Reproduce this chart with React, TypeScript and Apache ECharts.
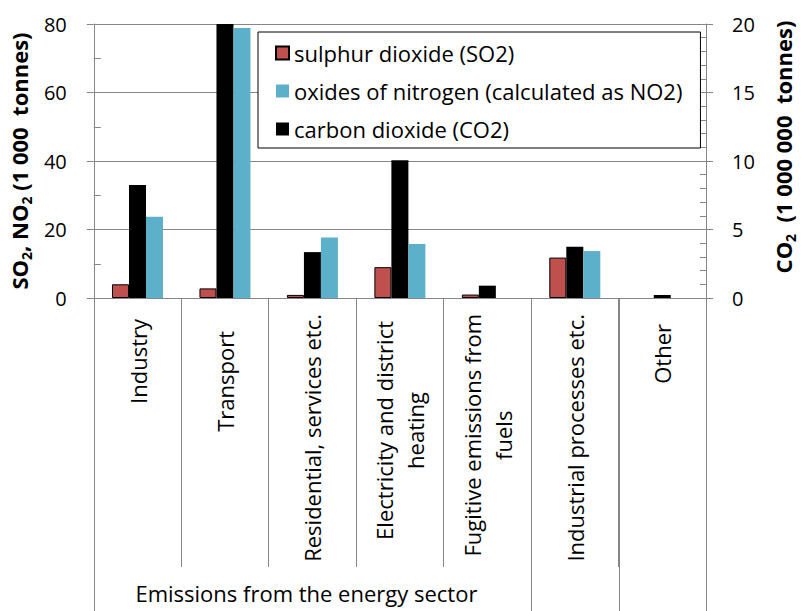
import React, { useEffect, useRef } from 'react';
import * as echarts from 'echarts';

// ---------- data ----------
const categories = [
  'Industry',
  'Transport',
  'Residential, services etc.',
  'Electricity and district\nheating',
  'Fugitive emissions from\nfuels',
  'Industrial processes etc.',
  'Other',
];
const so2 = [4, 2.8, 0.9, 9, 1, 11.8, 0]; // 1 000 tonnes (left axis)
const no2 = [23.7, 78.8, 17.7, 15.8, 0, 13.7, 0]; // 1 000 tonnes (left axis)
const co2 = [8.25, 20.5, 3.35, 10.05, 0.9, 3.75, 0.22]; // 1 000 000 tonnes (right axis)
const seriesNames = [
  'sulphur dioxide (SO2)',
  'oxides of nitrogen (calculated as NO2)',
  'carbon dioxide (CO2)',
];
const leftAxis = { min: 0, max: 80, interval: 20 };
const rightAxis = { min: 0, max: 20, interval: 5 };
const groupLabel = 'Emissions from the energy sector';
const groupFirst = 0;
const groupLast = 4;

// ---------- styles ----------
const FONT = '"Open Sans", sans-serif';
const GRAY = '#868686';
const RED = '#C0504D';
const BLUE = '#5DB0C9';
const labelShift = [5, 17, 0, 7, 0, 0, 10];

const hideZero = (arr: number[]) => arr.map((v) => (v === 0 ? null : v));

export default function App() {
  const ref = useRef<HTMLDivElement>(null);

  useEffect(() => {
    const chart = echarts.init(ref.current!, null, { renderer: 'svg' });

    const rich: any = {};
    categories.forEach((_, i) => {
      rich['c' + i] = {
        fontFamily: FONT,
        fontSize: 22,
        color: '#000',
        align: 'center',
        lineHeight: 31,
        padding: [0, labelShift[i], 0, 0],
      };
    });

    const nameRich = {
      a: { fontFamily: FONT, fontSize: 22, fontWeight: 'bold', color: '#000', lineHeight: 28 },
      s: { fontFamily: FONT, fontSize: 14, fontWeight: 'bold', color: '#000', lineHeight: 14, verticalAlign: 'bottom' },
      p: { fontFamily: FONT, fontSize: 22, width: 28, lineHeight: 28 },
    };

    const option: any = {
      animation: false,
      backgroundColor: '#fff',
      textStyle: { fontFamily: FONT },
      grid: { left: 93, right: 89, top: 24, bottom: 313, containLabel: false },
      legend: {
        orient: 'vertical',
        left: 258,
        top: 32,
        data: [seriesNames[0], seriesNames[1], seriesNames[2]],
        icon: 'rect',
        itemWidth: 13,
        itemHeight: 13,
        itemGap: 14,
        padding: [9, 18, 7, 17],
        borderColor: '#000',
        borderWidth: 1,
        backgroundColor: '#fff',
        textStyle: { fontFamily: FONT, fontSize: 22, color: '#000', lineHeight: 24 },
      },
      xAxis: [
        {
          type: 'category',
          data: categories,
          boundaryGap: true,
          axisLine: { show: true, lineStyle: { color: GRAY, width: 1 } },
          axisTick: { show: true, interval: 0, length: 269, lineStyle: { color: GRAY, width: 1 } },
          axisLabel: {
            interval: 0,
            rotate: 90,
            margin: 16,
            formatter: (v: string) => {
              const i = categories.indexOf(v);
              return v
                .split('\n')
                .map((l) => `{c${i}|${l}}`)
                .join('\n');
            },
            rich,
          },
          splitLine: { show: false },
        },
      ],
      yAxis: [
        {
          type: 'value',
          position: 'left',
          ...leftAxis,
          name: '{a|SO}{s|2}{a|, NO}{s|2}{a| (1 000  tonnes)}',
          nameLocation: 'middle',
          nameRotate: 90,
          nameGap: 58,
          nameTextStyle: { rich: nameRich },
          axisLine: { show: true, lineStyle: { color: GRAY, width: 1 } },
          axisTick: { show: true, length: 7, lineStyle: { color: GRAY } },
          axisLabel: { margin: 27, fontFamily: FONT, fontSize: 20, color: '#000' },
          splitLine: { show: true, lineStyle: { color: GRAY, width: 1 } },
        },
        {
          type: 'value',
          position: 'right',
          ...rightAxis,
          name: '{p| }{a|CO}{s|2}{a|  (1 000 000  tonnes)}',
          nameLocation: 'middle',
          nameRotate: 90,
          nameGap: 63,
          nameTextStyle: { rich: nameRich },
          axisLine: { show: true, lineStyle: { color: GRAY, width: 1 } },
          axisTick: { show: true, length: 7, lineStyle: { color: GRAY } },
          axisLabel: { margin: 26, fontFamily: FONT, fontSize: 20, color: '#000' },
          splitLine: { show: false },
        },
        {
          type: 'value',
          position: 'left',
          ...leftAxis,
          axisLine: { show: false },
          axisTick: { show: false, inside: true },
          axisLabel: { show: false },
          splitLine: { show: false },
          minorTick: { show: true, splitNumber: 2, length: 7, lineStyle: { color: GRAY } },
        },
        {
          type: 'value',
          position: 'right',
          ...rightAxis,
          axisLine: { show: false },
          axisTick: { show: false, inside: true },
          axisLabel: { show: false },
          splitLine: { show: false },
          minorTick: { show: true, splitNumber: 5, length: 6, lineStyle: { color: GRAY } },
        },
      ],
      series: [
        {
          name: seriesNames[0],
          type: 'bar',
          yAxisIndex: 0,
          data: hideZero(so2),
          barWidth: 17,
          barGap: '0%',
          itemStyle: { color: RED, borderColor: '#000', borderWidth: 1 },
        },
        {
          name: seriesNames[2],
          type: 'bar',
          yAxisIndex: 1,
          data: hideZero(co2),
          barWidth: 17,
          barGap: '0%',
          itemStyle: { color: '#000' },
        },
        {
          name: seriesNames[1],
          type: 'bar',
          yAxisIndex: 0,
          data: hideZero(no2),
          barWidth: 17,
          barGap: '0%',
          itemStyle: { color: BLUE },
        },
      ],
    };

    chart.setOption(option);

    // category boundaries via the axis scale
    const c0 = chart.convertToPixel({ xAxisIndex: 0 }, categories[0]) as number;
    const c1 = chart.convertToPixel({ xAxisIndex: 0 }, categories[1]) as number;
    const band = c1 - c0;
    const boundary = (k: number) => c0 - band / 2 + k * band;
    const axisY = chart.convertToPixel({ yAxisIndex: 0 }, 0) as number;
    const H = chart.getHeight();
    const longLines = [groupFirst, groupLast + 1, groupLast + 2, categories.length];
    const graphics: any[] = longLines.map((k) => ({
      type: 'line',
      shape: { x1: Math.round(boundary(k)) + 0.5, y1: axisY, x2: Math.round(boundary(k)) + 0.5, y2: H },
      style: { stroke: GRAY, lineWidth: 1 },
      z: 10,
    }));
    graphics.push({
      type: 'text',
      x: (boundary(groupFirst) + boundary(groupLast + 1)) / 2 - 6,
      y: 582,
      style: {
        text: groupLabel,
        fontFamily: FONT,
        fontSize: 22,
        lineHeight: 22,
        fill: '#000',
        textAlign: 'center',
        textVerticalAlign: 'top',
      },
      z: 10,
    });
    chart.setOption({ graphic: graphics });

    return () => chart.dispose();
  }, []);

  return (
    <div
      ref={ref}
      style={{ position: 'fixed', left: 0, top: 0, width: 805, height: 611, background: '#fff' }}
    />
  );
}
